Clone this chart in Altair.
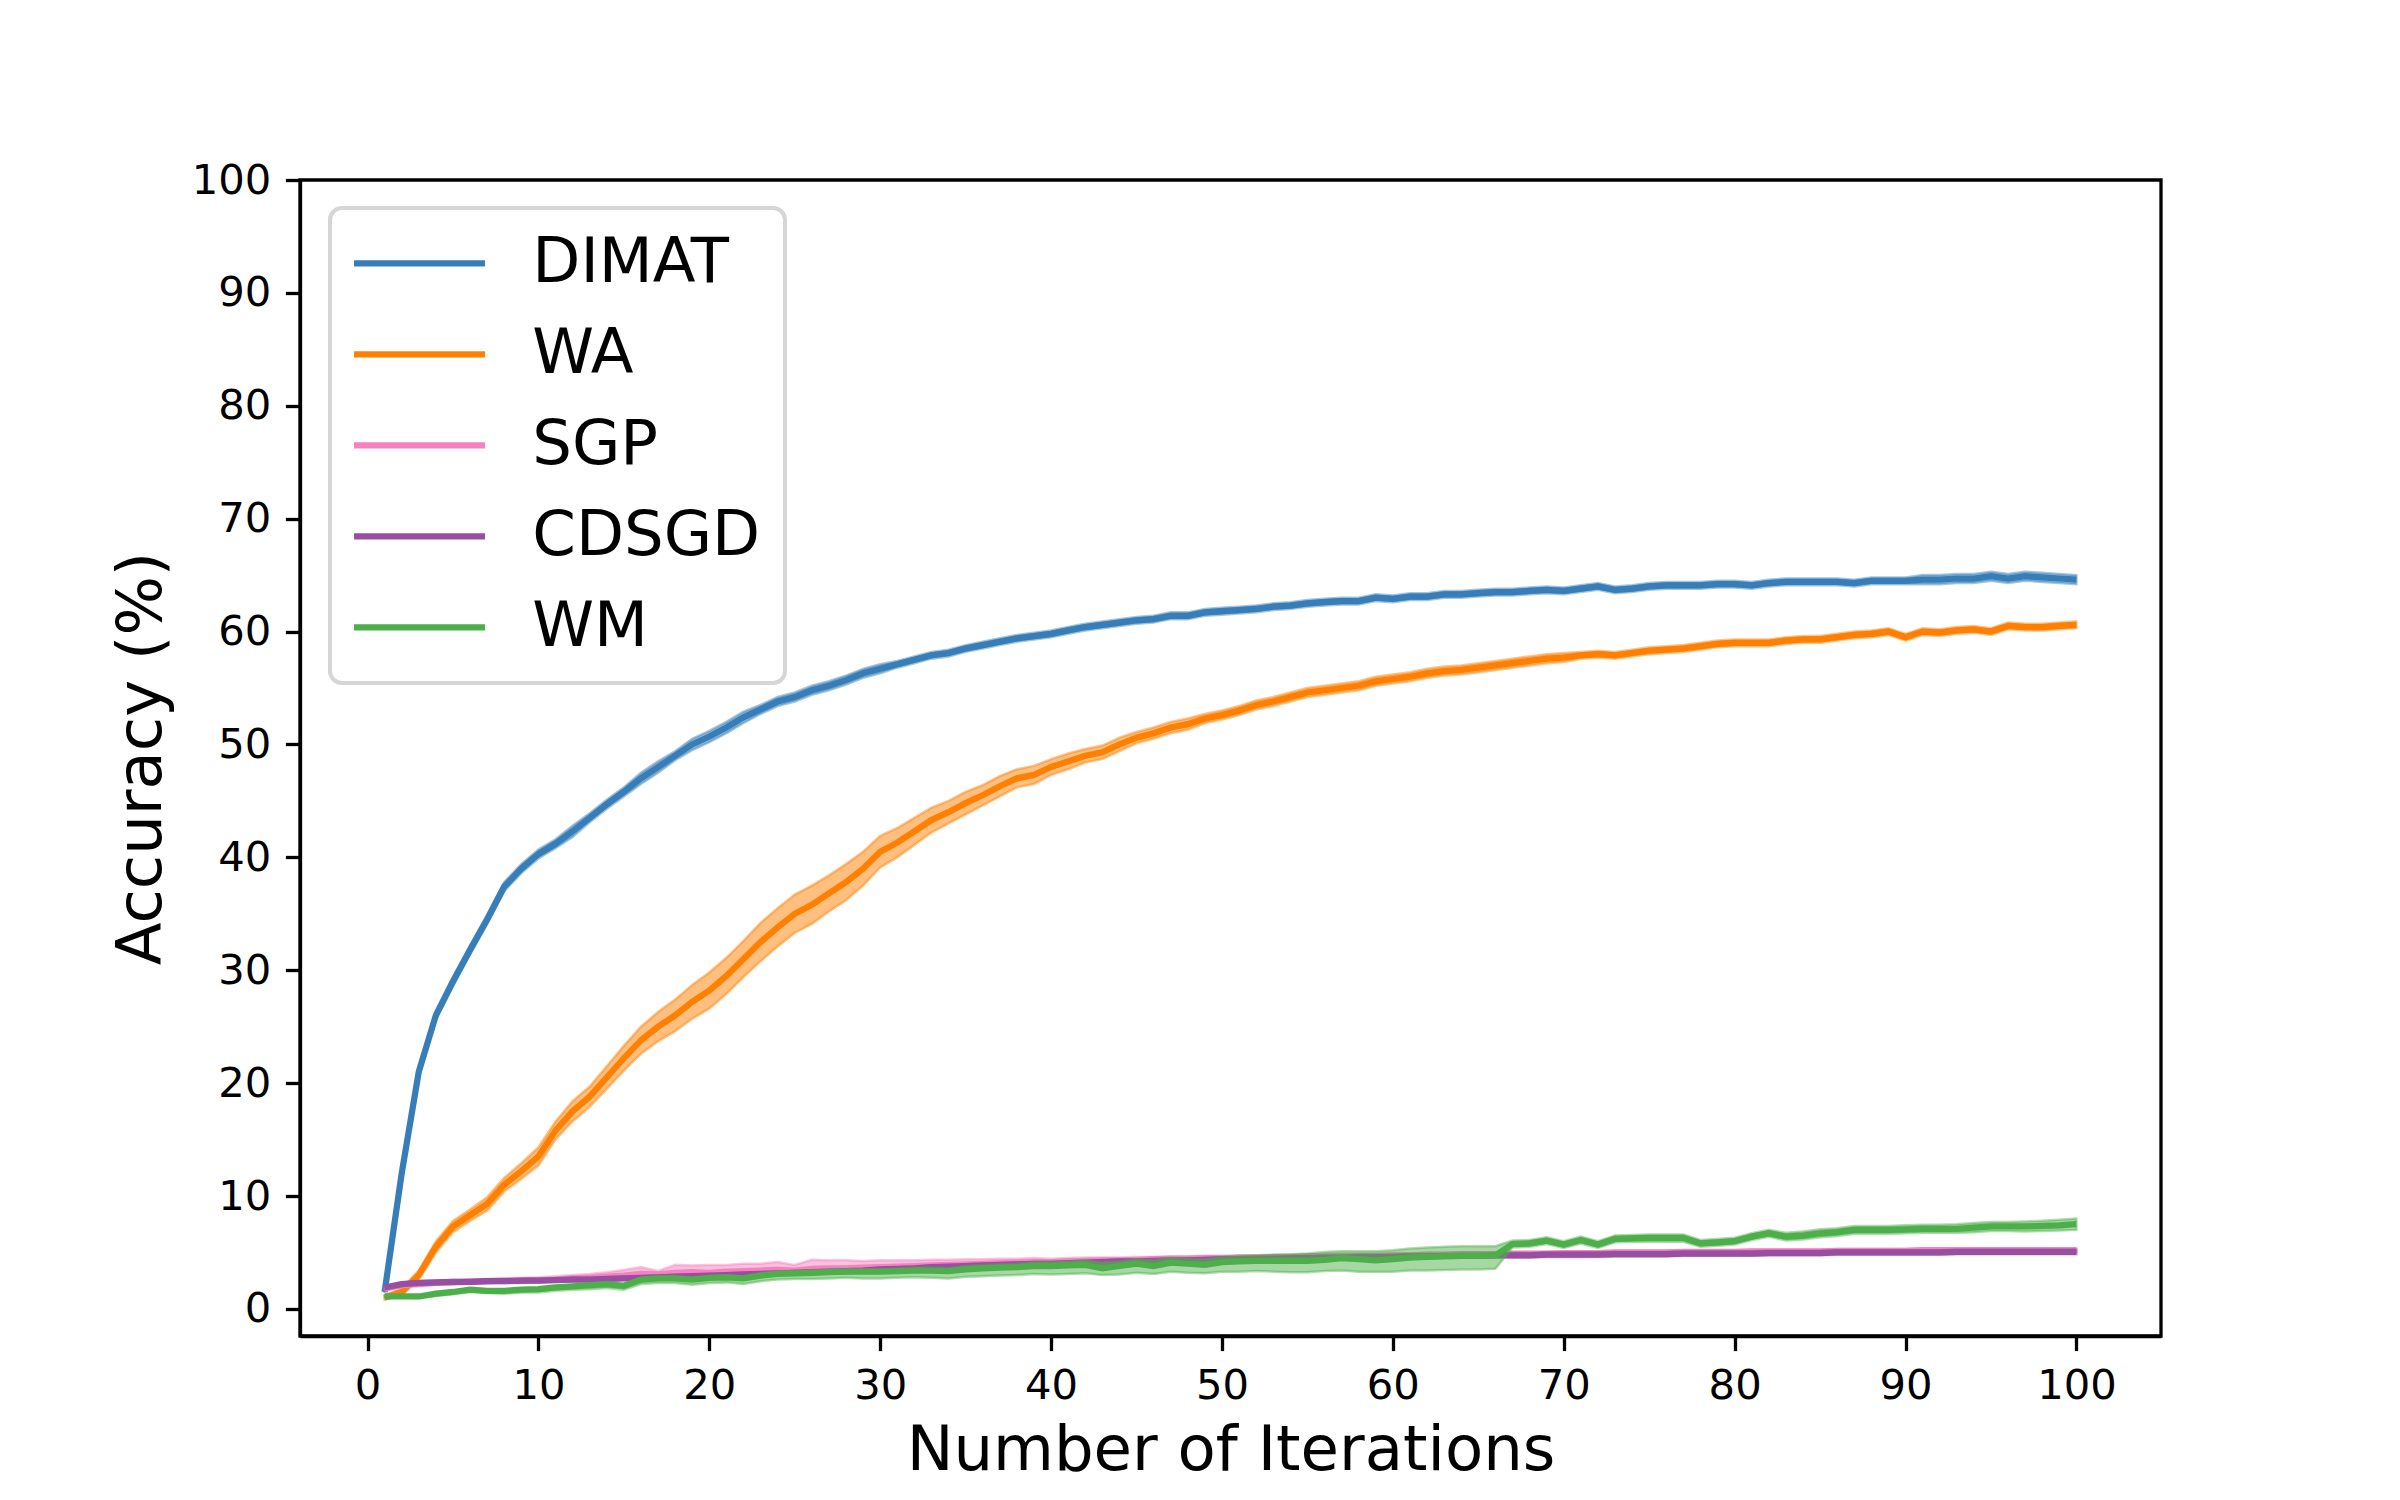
import altair as alt
import pandas as pd

# ---------------- data ----------------
iterations = list(range(1, 101))
series_names = ["DIMAT", "WA", "SGP", "CDSGD", "WM"]
series_colors = ["#377eb8", "#ff7f00", "#f781bf", "#984ea3", "#4daf4a"]
x_ticks = [0, 10, 20, 30, 40, 50, 60, 70, 80, 90, 100]
y_ticks = [0, 10, 20, 30, 40, 50, 60, 70, 80, 90, 100]

dimat_mean = [
    1.5, 12.0, 21.0, 26.0, 29.0, 31.8, 34.5, 37.4, 39.0, 40.3,
    41.2, 42.3, 43.5, 44.7, 45.8, 47.0, 48.0, 49.0, 50.0, 50.7,
    51.5, 52.4, 53.1, 53.8, 54.2, 54.8, 55.2, 55.7, 56.3, 56.7,
    57.1, 57.5, 57.9, 58.1, 58.5, 58.8, 59.1, 59.4, 59.6, 59.8,
    60.1, 60.4, 60.6, 60.8, 61.0, 61.1, 61.4, 61.4, 61.7, 61.8,
    61.9, 62.0, 62.2, 62.3, 62.5, 62.6, 62.7, 62.7, 63.0, 62.9,
    63.1, 63.1, 63.3, 63.3, 63.4, 63.5, 63.5, 63.6, 63.7, 63.6,
    63.8, 64.0, 63.7, 63.8, 64.0, 64.1, 64.1, 64.1, 64.2, 64.2,
    64.1, 64.3, 64.4, 64.4, 64.4, 64.4, 64.3, 64.5, 64.5, 64.5,
    64.6, 64.6, 64.7, 64.7, 64.9, 64.7, 64.9, 64.8, 64.7, 64.6,
]
dimat_lo = [
    0.1, 0.3, 0.4, 0.4, 0.4, 0.4, 0.4, 0.4, 0.4, 0.4,
    0.4, 0.5, 0.4, 0.4, 0.4, 0.5, 0.5, 0.4, 0.5, 0.5,
    0.5, 0.5, 0.4, 0.4, 0.4, 0.4, 0.4, 0.4, 0.4, 0.4,
    0.3, 0.3, 0.3, 0.3, 0.3, 0.3, 0.3, 0.3, 0.3, 0.3,
    0.3, 0.3, 0.3, 0.3, 0.3, 0.3, 0.3, 0.3, 0.3, 0.3,
    0.3, 0.3, 0.3, 0.3, 0.3, 0.3, 0.3, 0.3, 0.3, 0.3,
    0.3, 0.3, 0.3, 0.3, 0.3, 0.3, 0.3, 0.3, 0.3, 0.3,
    0.3, 0.3, 0.3, 0.3, 0.3, 0.3, 0.3, 0.3, 0.3, 0.3,
    0.3, 0.3, 0.3, 0.3, 0.3, 0.3, 0.3, 0.3, 0.3, 0.3,
    0.4, 0.4, 0.4, 0.4, 0.4, 0.4, 0.4, 0.4, 0.4, 0.4,
]
dimat_hi = dimat_lo

wa_mean = [
    1.0, 1.5, 3.0, 5.5, 7.3, 8.3, 9.3, 11.0, 12.2, 13.5,
    15.8, 17.5, 18.8, 20.5, 22.2, 23.8, 25.0, 26.0, 27.2, 28.2,
    29.5, 31.0, 32.5, 33.8, 35.0, 35.8, 36.8, 37.8, 39.0, 40.5,
    41.3, 42.3, 43.3, 44.0, 44.8, 45.5, 46.3, 47.0, 47.3, 48.0,
    48.5, 49.0, 49.3, 50.0, 50.6, 51.0, 51.5, 51.8, 52.3, 52.6,
    53.0, 53.5, 53.8, 54.2, 54.6, 54.8, 55.0, 55.2, 55.6, 55.8,
    56.0, 56.3, 56.5, 56.6, 56.8, 57.0, 57.2, 57.4, 57.6, 57.7,
    57.9, 58.0, 57.9, 58.1, 58.3, 58.4, 58.5, 58.7, 58.9, 59.0,
    59.0, 59.0, 59.2, 59.3, 59.3, 59.5, 59.7, 59.8, 60.0, 59.5,
    60.0, 59.9, 60.1, 60.2, 60.0, 60.5, 60.4, 60.4, 60.5, 60.6,
]
wa_lo = [
    0.2, 0.3, 0.4, 0.5, 0.5, 0.5, 0.6, 0.6, 0.7, 0.8,
    0.8, 0.9, 0.9, 1.0, 1.1, 1.2, 1.3, 1.4, 1.5, 1.6,
    1.6, 1.6, 1.7, 1.7, 1.7, 1.7, 1.6, 1.6, 1.5, 1.4,
    1.3, 1.2, 1.1, 1.0, 1.0, 0.9, 0.9, 0.8, 0.8, 0.7,
    0.7, 0.6, 0.6, 0.6, 0.5, 0.5, 0.5, 0.5, 0.4, 0.4,
    0.4, 0.4, 0.4, 0.4, 0.4, 0.4, 0.4, 0.4, 0.4, 0.4,
    0.4, 0.4, 0.4, 0.4, 0.4, 0.4, 0.4, 0.4, 0.4, 0.4,
    0.3, 0.3, 0.3, 0.3, 0.3, 0.3, 0.3, 0.3, 0.3, 0.3,
    0.3, 0.3, 0.3, 0.3, 0.3, 0.3, 0.3, 0.3, 0.3, 0.3,
    0.3, 0.3, 0.3, 0.3, 0.3, 0.3, 0.3, 0.3, 0.3, 0.3,
]
wa_hi = wa_lo

sgp_mean = [
    1.8, 2.1, 2.2, 2.3, 2.35, 2.4, 2.45, 2.5, 2.5, 2.55,
    2.6, 2.7, 2.75, 2.85, 2.95, 3.1, 3.05, 3.2, 3.25, 3.2,
    3.3, 3.35, 3.4, 3.45, 3.4, 3.55, 3.6, 3.6, 3.65, 3.7,
    3.75, 3.8, 3.85, 3.9, 3.95, 4.0, 4.05, 4.1, 4.15, 4.15,
    4.2, 4.25, 4.3, 4.3, 4.35, 4.4, 4.45, 4.45, 4.5, 4.5,
    4.55, 4.55, 4.6, 4.6, 4.65, 4.65, 4.7, 4.7, 4.7, 4.75,
    4.75, 4.8, 4.8, 4.85, 4.85, 4.85, 4.9, 4.9, 4.9, 4.95,
    4.95, 4.95, 5.0, 5.0, 5.0, 5.0, 5.05, 5.05, 5.05, 5.05,
    5.1, 5.1, 5.1, 5.1, 5.1, 5.15, 5.15, 5.15, 5.15, 5.15,
    5.2, 5.2, 5.2, 5.2, 5.2, 5.2, 5.2, 5.2, 5.2, 5.2,
]
sgp_lo = [
    0.1, 0.1, 0.1, 0.15, 0.15, 0.15, 0.15, 0.15, 0.15, 0.15,
    0.15, 0.15, 0.15, 0.15, 0.15, 0.15, 0.15, 0.15, 0.15, 0.15,
    0.15, 0.15, 0.15, 0.15, 0.15, 0.15, 0.15, 0.15, 0.15, 0.15,
    0.15, 0.15, 0.15, 0.15, 0.15, 0.15, 0.15, 0.15, 0.15, 0.15,
    0.15, 0.15, 0.15, 0.15, 0.15, 0.15, 0.15, 0.15, 0.15, 0.15,
    0.15, 0.15, 0.15, 0.15, 0.15, 0.15, 0.15, 0.15, 0.15, 0.15,
    0.15, 0.15, 0.15, 0.15, 0.15, 0.15, 0.15, 0.15, 0.15, 0.15,
    0.15, 0.15, 0.15, 0.15, 0.15, 0.15, 0.15, 0.15, 0.15, 0.15,
    0.15, 0.15, 0.15, 0.15, 0.15, 0.15, 0.15, 0.15, 0.15, 0.15,
    0.15, 0.15, 0.15, 0.15, 0.15, 0.15, 0.15, 0.15, 0.15, 0.15,
]
sgp_hi = [
    0.1, 0.1, 0.1, 0.15, 0.15, 0.2, 0.2, 0.2, 0.25, 0.25,
    0.3, 0.3, 0.35, 0.4, 0.5, 0.6, 0.3, 0.7, 0.6, 0.7,
    0.6, 0.65, 0.6, 0.7, 0.5, 0.8, 0.7, 0.7, 0.6, 0.6,
    0.55, 0.5, 0.5, 0.45, 0.45, 0.4, 0.4, 0.35, 0.35, 0.3,
    0.3, 0.3, 0.25, 0.25, 0.25, 0.2, 0.2, 0.2, 0.2, 0.2,
    0.15, 0.15, 0.15, 0.15, 0.15, 0.15, 0.15, 0.15, 0.15, 0.15,
    0.15, 0.15, 0.15, 0.15, 0.15, 0.15, 0.15, 0.15, 0.15, 0.15,
    0.15, 0.15, 0.15, 0.15, 0.15, 0.15, 0.15, 0.15, 0.15, 0.15,
    0.15, 0.15, 0.15, 0.15, 0.15, 0.15, 0.15, 0.15, 0.15, 0.15,
    0.15, 0.15, 0.15, 0.15, 0.15, 0.15, 0.15, 0.15, 0.15, 0.15,
]

cdsgd_mean = [
    1.9, 2.2, 2.3, 2.35, 2.4, 2.4, 2.45, 2.45, 2.5, 2.5,
    2.55, 2.6, 2.6, 2.65, 2.7, 2.75, 2.8, 2.85, 2.9, 2.95,
    3.0, 3.05, 3.1, 3.15, 3.2, 3.25, 3.3, 3.35, 3.4, 3.5,
    3.55, 3.6, 3.7, 3.75, 3.8, 3.85, 3.9, 3.95, 4.0, 4.0,
    4.05, 4.1, 4.15, 4.2, 4.2, 4.25, 4.3, 4.3, 4.35, 4.4,
    4.4, 4.45, 4.45, 4.5, 4.5, 4.55, 4.55, 4.6, 4.6, 4.6,
    4.65, 4.65, 4.7, 4.7, 4.7, 4.75, 4.75, 4.75, 4.8, 4.8,
    4.8, 4.8, 4.85, 4.85, 4.85, 4.85, 4.9, 4.9, 4.9, 4.9,
    4.9, 4.95, 4.95, 4.95, 4.95, 5.0, 5.0, 5.0, 5.0, 5.0,
    5.0, 5.0, 5.05, 5.05, 5.05, 5.05, 5.05, 5.05, 5.05, 5.05,
]
cdsgd_lo = [
    0.1, 0.15, 0.15, 0.15, 0.15, 0.15, 0.15, 0.15, 0.15, 0.15,
    0.15, 0.15, 0.15, 0.15, 0.15, 0.15, 0.15, 0.15, 0.15, 0.15,
    0.15, 0.15, 0.15, 0.15, 0.15, 0.15, 0.15, 0.15, 0.15, 0.15,
    0.15, 0.15, 0.15, 0.15, 0.15, 0.15, 0.15, 0.15, 0.15, 0.15,
    0.15, 0.15, 0.15, 0.15, 0.15, 0.15, 0.15, 0.15, 0.15, 0.15,
    0.15, 0.15, 0.15, 0.15, 0.15, 0.15, 0.15, 0.15, 0.15, 0.15,
    0.15, 0.15, 0.15, 0.15, 0.15, 0.15, 0.2, 0.2, 0.2, 0.2,
    0.2, 0.2, 0.2, 0.2, 0.2, 0.2, 0.2, 0.2, 0.2, 0.2,
    0.2, 0.2, 0.2, 0.2, 0.2, 0.2, 0.2, 0.2, 0.2, 0.2,
    0.2, 0.2, 0.2, 0.2, 0.2, 0.2, 0.2, 0.2, 0.2, 0.2,
]
cdsgd_hi = cdsgd_lo

wm_mean = [
    1.1, 1.1, 1.1, 1.35, 1.5, 1.7, 1.6, 1.6, 1.7, 1.75,
    1.9, 2.0, 2.1, 2.2, 2.05, 2.6, 2.7, 2.7, 2.6, 2.75,
    2.8, 2.7, 2.95, 3.1, 3.15, 3.2, 3.25, 3.3, 3.3, 3.3,
    3.35, 3.4, 3.4, 3.35, 3.5, 3.6, 3.65, 3.7, 3.8, 3.8,
    3.85, 3.9, 3.6, 3.8, 4.0, 3.8, 4.1, 4.0, 3.9, 4.15,
    4.2, 4.25, 4.25, 4.25, 4.25, 4.35, 4.5, 4.4, 4.3, 4.4,
    4.55, 4.6, 4.65, 4.7, 4.7, 4.75, 5.75, 5.8, 6.05, 5.7,
    6.1, 5.7, 6.2, 6.25, 6.3, 6.3, 6.3, 5.8, 5.9, 6.0,
    6.4, 6.7, 6.4, 6.5, 6.7, 6.8, 7.0, 7.0, 7.0, 7.05,
    7.1, 7.1, 7.1, 7.2, 7.3, 7.3, 7.3, 7.35, 7.4, 7.5,
]
wm_lo = [
    0.05, 0.1, 0.15, 0.2, 0.2, 0.2, 0.2, 0.25, 0.25, 0.3,
    0.3, 0.3, 0.35, 0.35, 0.35, 0.4, 0.4, 0.4, 0.45, 0.45,
    0.45, 0.5, 0.5, 0.5, 0.5, 0.55, 0.55, 0.55, 0.6, 0.6,
    0.6, 0.6, 0.65, 0.65, 0.65, 0.7, 0.7, 0.7, 0.7, 0.75,
    0.75, 0.75, 0.6, 0.75, 0.8, 0.7, 0.8, 0.8, 0.75, 0.85,
    0.9, 0.9, 0.95, 1.0, 1.0, 1.0, 1.1, 1.1, 1.0, 1.1,
    1.15, 1.2, 1.2, 1.2, 1.2, 1.2, 0.3, 0.3, 0.3, 0.3,
    0.3, 0.3, 0.3, 0.3, 0.35, 0.35, 0.35, 0.3, 0.3, 0.3,
    0.3, 0.3, 0.35, 0.35, 0.35, 0.35, 0.35, 0.35, 0.35, 0.35,
    0.35, 0.35, 0.35, 0.4, 0.4, 0.4, 0.45, 0.45, 0.45, 0.5,
]
wm_hi = [
    0.05, 0.05, 0.1, 0.1, 0.1, 0.1, 0.1, 0.1, 0.1, 0.1,
    0.1, 0.1, 0.15, 0.15, 0.15, 0.15, 0.15, 0.15, 0.15, 0.15,
    0.15, 0.2, 0.2, 0.2, 0.2, 0.2, 0.2, 0.2, 0.2, 0.2,
    0.2, 0.25, 0.25, 0.25, 0.3, 0.3, 0.3, 0.3, 0.35, 0.35,
    0.35, 0.4, 0.5, 0.4, 0.4, 0.5, 0.4, 0.45, 0.5, 0.45,
    0.5, 0.5, 0.55, 0.6, 0.65, 0.7, 0.6, 0.7, 0.8, 0.8,
    0.8, 0.85, 0.85, 0.85, 0.85, 0.8, 0.3, 0.3, 0.3, 0.3,
    0.3, 0.3, 0.3, 0.3, 0.3, 0.3, 0.3, 0.3, 0.3, 0.3,
    0.3, 0.3, 0.35, 0.35, 0.35, 0.35, 0.35, 0.35, 0.35, 0.35,
    0.35, 0.35, 0.4, 0.4, 0.4, 0.4, 0.45, 0.45, 0.5, 0.5,
]

series_data = {
    "DIMAT": (dimat_mean, dimat_lo, dimat_hi),
    "WA": (wa_mean, wa_lo, wa_hi),
    "SGP": (sgp_mean, sgp_lo, sgp_hi),
    "CDSGD": (cdsgd_mean, cdsgd_lo, cdsgd_hi),
    "WM": (wm_mean, wm_lo, wm_hi),
}

rows = []
for name in series_names:
    mean, lo, hi = series_data[name]
    assert len(mean) == len(lo) == len(hi) == len(iterations), name
    for it, m, l, h in zip(iterations, mean, lo, hi):
        rows.append({"iter": it, "series": name, "acc": m,
                     "low": round(m - l, 3), "high": round(m + h, 3)})
df = pd.DataFrame(rows)

# ---------------- chart ----------------
FONT = "DejaVu Sans"
x_scale = alt.Scale(domain=[-3.95, 104.95], nice=False, zero=False)
y_scale = alt.Scale(domain=[-2.4, 100], nice=False, zero=False)
color_scale = alt.Scale(domain=series_names, range=series_colors)

x_axis = alt.Axis(values=x_ticks, title="Number of Iterations", titlePadding=14,
                  format="d", labelFlush=False, labelOverlap=False)
y_axis = alt.Axis(values=y_ticks, title="Accuracy (%)", titlePadding=18,
                  format="d", labelFlush=False, labelOverlap=False)

legend = alt.Legend(
    title=None, orient="none", legendX=30, legendY=28,
    symbolType="M-5,0H5", symbolSize=686, symbolStrokeWidth=6.25,
    symbolOffset=34.25, labelOffset=81.5,
    labelFont=FONT, labelFontSize=62.5, labelColor="black", labelLimit=0,
    fillColor="white",
)

base = alt.Chart(df)
layers = []
for name, col in zip(series_names, series_colors):
    sub = base.transform_filter(alt.datum.series == name)
    band = sub.mark_area(
        fill=col, fillOpacity=0.5, stroke=col, strokeOpacity=0.45, strokeWidth=2.5
    ).encode(
        x=alt.X("iter:Q", scale=x_scale, axis=x_axis),
        y=alt.Y("low:Q", scale=y_scale, axis=y_axis),
        y2="high:Q",
    )
    line = sub.mark_line(strokeWidth=6.25).encode(
        x=alt.X("iter:Q", scale=x_scale, axis=x_axis),
        y=alt.Y("acc:Q", scale=y_scale, axis=y_axis),
        color=alt.Color("series:N", scale=color_scale, legend=legend),
    )
    layers += [band, line]

chart = alt.layer(*layers).properties(
    width=1861, height=1156,
    padding={"left": 292, "top": 172, "right": 200, "bottom": 150},
    autosize=alt.AutoSizeParams(type="none"),
    background="white",
).configure_view(
    stroke="black", strokeWidth=3.3
).configure_axis(
    grid=False, domainColor="black", domainWidth=3.3,
    tickColor="black", tickWidth=3.3, tickSize=14.6, labelPadding=14.6,
    labelFont=FONT, labelFontSize=41.7, labelColor="black",
    titleFont=FONT, titleFontSize=62.5, titleFontWeight="normal", titleColor="black",
).configure_legend(
    strokeColor="#d6d6d6", strokeWidth=4, cornerRadius=12, padding=24,
    rowPadding=28,
)

chart.save("out.html", embed_options={"renderer": "svg", "actions": False})
